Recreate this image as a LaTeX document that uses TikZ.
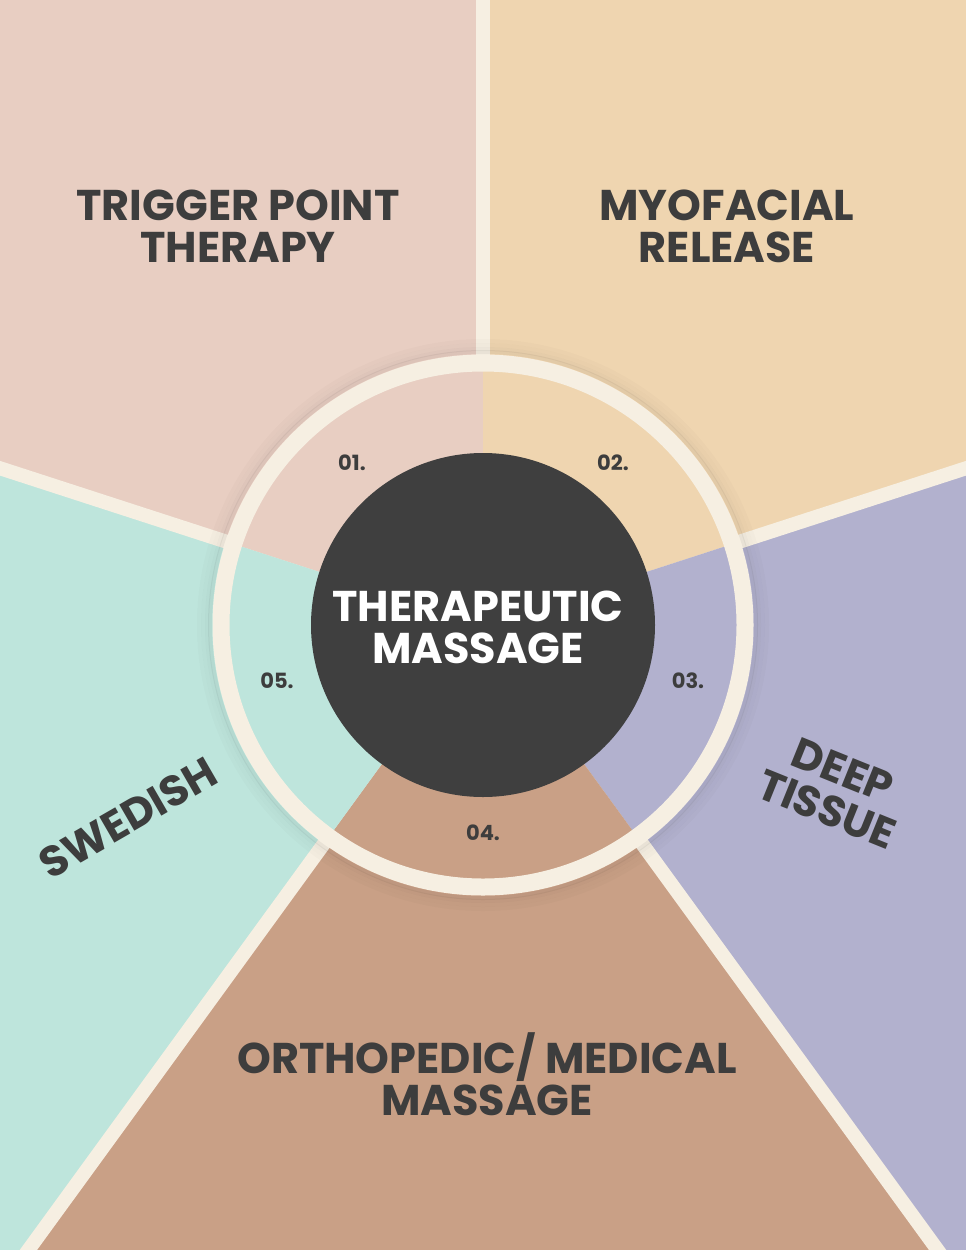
\documentclass[tikz,border=0pt]{standalone}
\usepackage{fontspec}
\setmainfont{Poppins}
\definecolor{cA}{HTML}{E8CEC2}
\definecolor{cB}{HTML}{EFD5B0}
\definecolor{cC}{HTML}{B2B1CE}
\definecolor{cD}{HTML}{C9A086}
\definecolor{cE}{HTML}{BEE5DC}
\definecolor{cream}{HTML}{F6EFE2}
\definecolor{dark}{HTML}{3F3F3F}
\definecolor{txt}{HTML}{3D3D3D}
\begin{document}
\begin{tikzpicture}[x=1pt,y=-1pt,
  big/.style={font=\fontsize{43}{42}\selectfont\bfseries, text=txt, align=center, inner sep=0},
  num/.style={font=\fontsize{21}{21}\selectfont\bfseries, text=txt, inner sep=0},
  divider/.style={draw=cream, line width=14pt}]
\useasboundingbox (0,0) rectangle (966,1250);
\clip (0,0) rectangle (966,1250);
\coordinate (c) at (483,625);
\coordinate (t1) at (483,-50);
\coordinate (t2) at (-50,452);
\coordinate (t3) at (1016,452);
\coordinate (t4) at (974,1300);
\coordinate (t5) at (-8,1300);
\fill[cA] (c) -- (t1) -- (-50,-50) -- (t2) -- cycle;
\fill[cB] (c) -- (t1) -- (1016,-50) -- (t3) -- cycle;
\fill[cC] (c) -- (t3) -- (1016,1300) -- (t4) -- cycle;
\fill[cD] (c) -- (t4) -- (t5) -- cycle;
\fill[cE] (c) -- (t5) -- (-50,1300) -- (t2) -- cycle;
\foreach \t in {t1,t2,t3,t4,t5} \draw[divider] (c) -- (\t);
\begin{scope}
\clip (c) circle[radius=262];
\fill[cA] (c) -- (t1) -- (-50,-50) -- (t2) -- cycle;
\fill[cB] (c) -- (t1) -- (1016,-50) -- (t3) -- cycle;
\fill[cC] (c) -- (t3) -- (1016,1300) -- (t4) -- cycle;
\fill[cD] (c) -- (t4) -- (t5) -- cycle;
\fill[cE] (c) -- (t5) -- (-50,1300) -- (t2) -- cycle;
\end{scope}
\foreach \r/\o in {284/0.015,280/0.025,276/0.04,273/0.05} \draw[black, opacity=\o, line width=4pt] (c) circle[radius=\r];
\draw[cream, line width=17pt] (c) circle[radius=262];
\node[circle, fill=dark, minimum size=344pt, inner sep=0] (hub) at (c) {};
\node[font=\fontsize{43}{42}\selectfont\bfseries, text=white, align=center] (hubt) at (478,627) {THERAPEUTIC\\MASSAGE};
\node[big] (l1) at (238,226) {TRIGGER POINT\\THERAPY};
\node[big] (l2) at (727,226) {MYOFACIAL\\RELEASE};
\node[big, rotate=-22] (l3) at (835,790) {DEEP\\TISSUE};
\node[big] (l4) at (487,1074) {ORTHOPEDIC/ MEDICAL\\MASSAGE};
\node[big, rotate=30] (l5) at (128,818) {SWEDISH};
\node[num] (n1) at (352,463) {01.};
\node[num] (n2) at (613,463) {02.};
\node[num] (n3) at (688,681) {03.};
\node[num] (n4) at (483,833) {04.};
\node[num] (n5) at (277,681) {05.};
\end{tikzpicture}
\end{document}
